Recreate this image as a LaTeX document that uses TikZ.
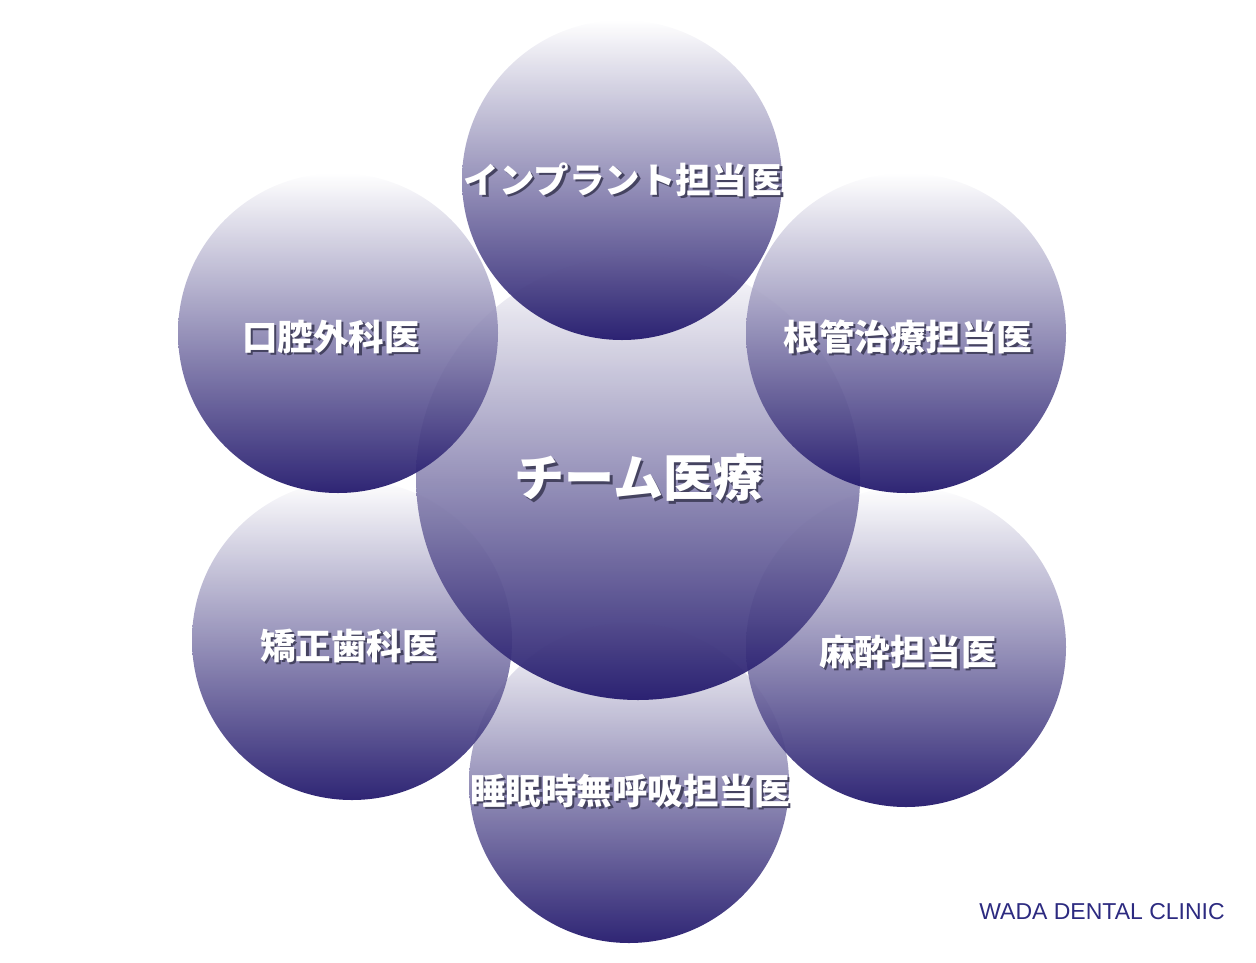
\documentclass[tikz,border=0pt]{standalone}
\usepackage{fontspec}
\newfontfamily\jpfont{Noto Sans CJK JP}
\setsansfont{Liberation Sans}
\definecolor{navy}{HTML}{1F156A}
\definecolor{midnavy}{HTML}{8480B3}
\definecolor{clinic}{HTML}{2C2A80}
\definecolor{textshade}{HTML}{454360}
\newcommand\shadowtext[1]{\leavevmode\rlap{\kern2.5pt\raisebox{-2.5pt}{\textcolor{textshade}{#1}}}#1}

\begin{document}
\begin{tikzpicture}[x=1pt,y=-1pt,
    ball/.style={circle,minimum size=320pt,inner sep=0pt,top color=white,middle color=midnavy,bottom color=navy,fill opacity=0.93},
    bigball/.style={ball,minimum size=444pt},
    labeltext/.style={text=white,inner sep=0pt,font=\jpfont\bfseries\fontsize{35.5}{40}\selectfont},
    bigtext/.style={labeltext,font=\jpfont\bfseries\fontsize{50}{54}\selectfont}]
    \useasboundingbox (0,0) rectangle (1256,962);
    %circles, bottom ones first
    \node[ball] (sleep) at (629,783) {};
    \node[ball] (ortho) at (352,640) {};
    \node[ball] (anest) at (906,647) {};
    \node[bigball] (team) at (638,478) {};
    \node[ball] (oral) at (338,333) {};
    \node[ball] (endo) at (906,333) {};
    \node[ball] (implant) at (622,180) {};
    %labels
    \node[labeltext] (implantlabel) at (623,181) {\shadowtext{インプラント担当医}};
    \node[labeltext] (orallabel) at (331,338) {\shadowtext{口腔外科医}};
    \node[labeltext] (endolabel) at (908,338) {\shadowtext{根管治療担当医}};
    \node[labeltext] (ortholabel) at (349,647) {\shadowtext{矯正歯科医}};
    \node[labeltext] (anestlabel) at (908,653) {\shadowtext{麻酔担当医}};
    \node[labeltext] (sleeplabel) at (630,792) {\shadowtext{睡眠時無呼吸担当医}};
    \node[bigtext] (teamlabel) at (639,479) {\shadowtext{チーム医療}};
    \node[text=clinic,font=\sffamily\fontsize{23}{26}\selectfont] (clinicname) at (1102,912) {WADA DENTAL CLINIC};
\end{tikzpicture}
\end{document}
